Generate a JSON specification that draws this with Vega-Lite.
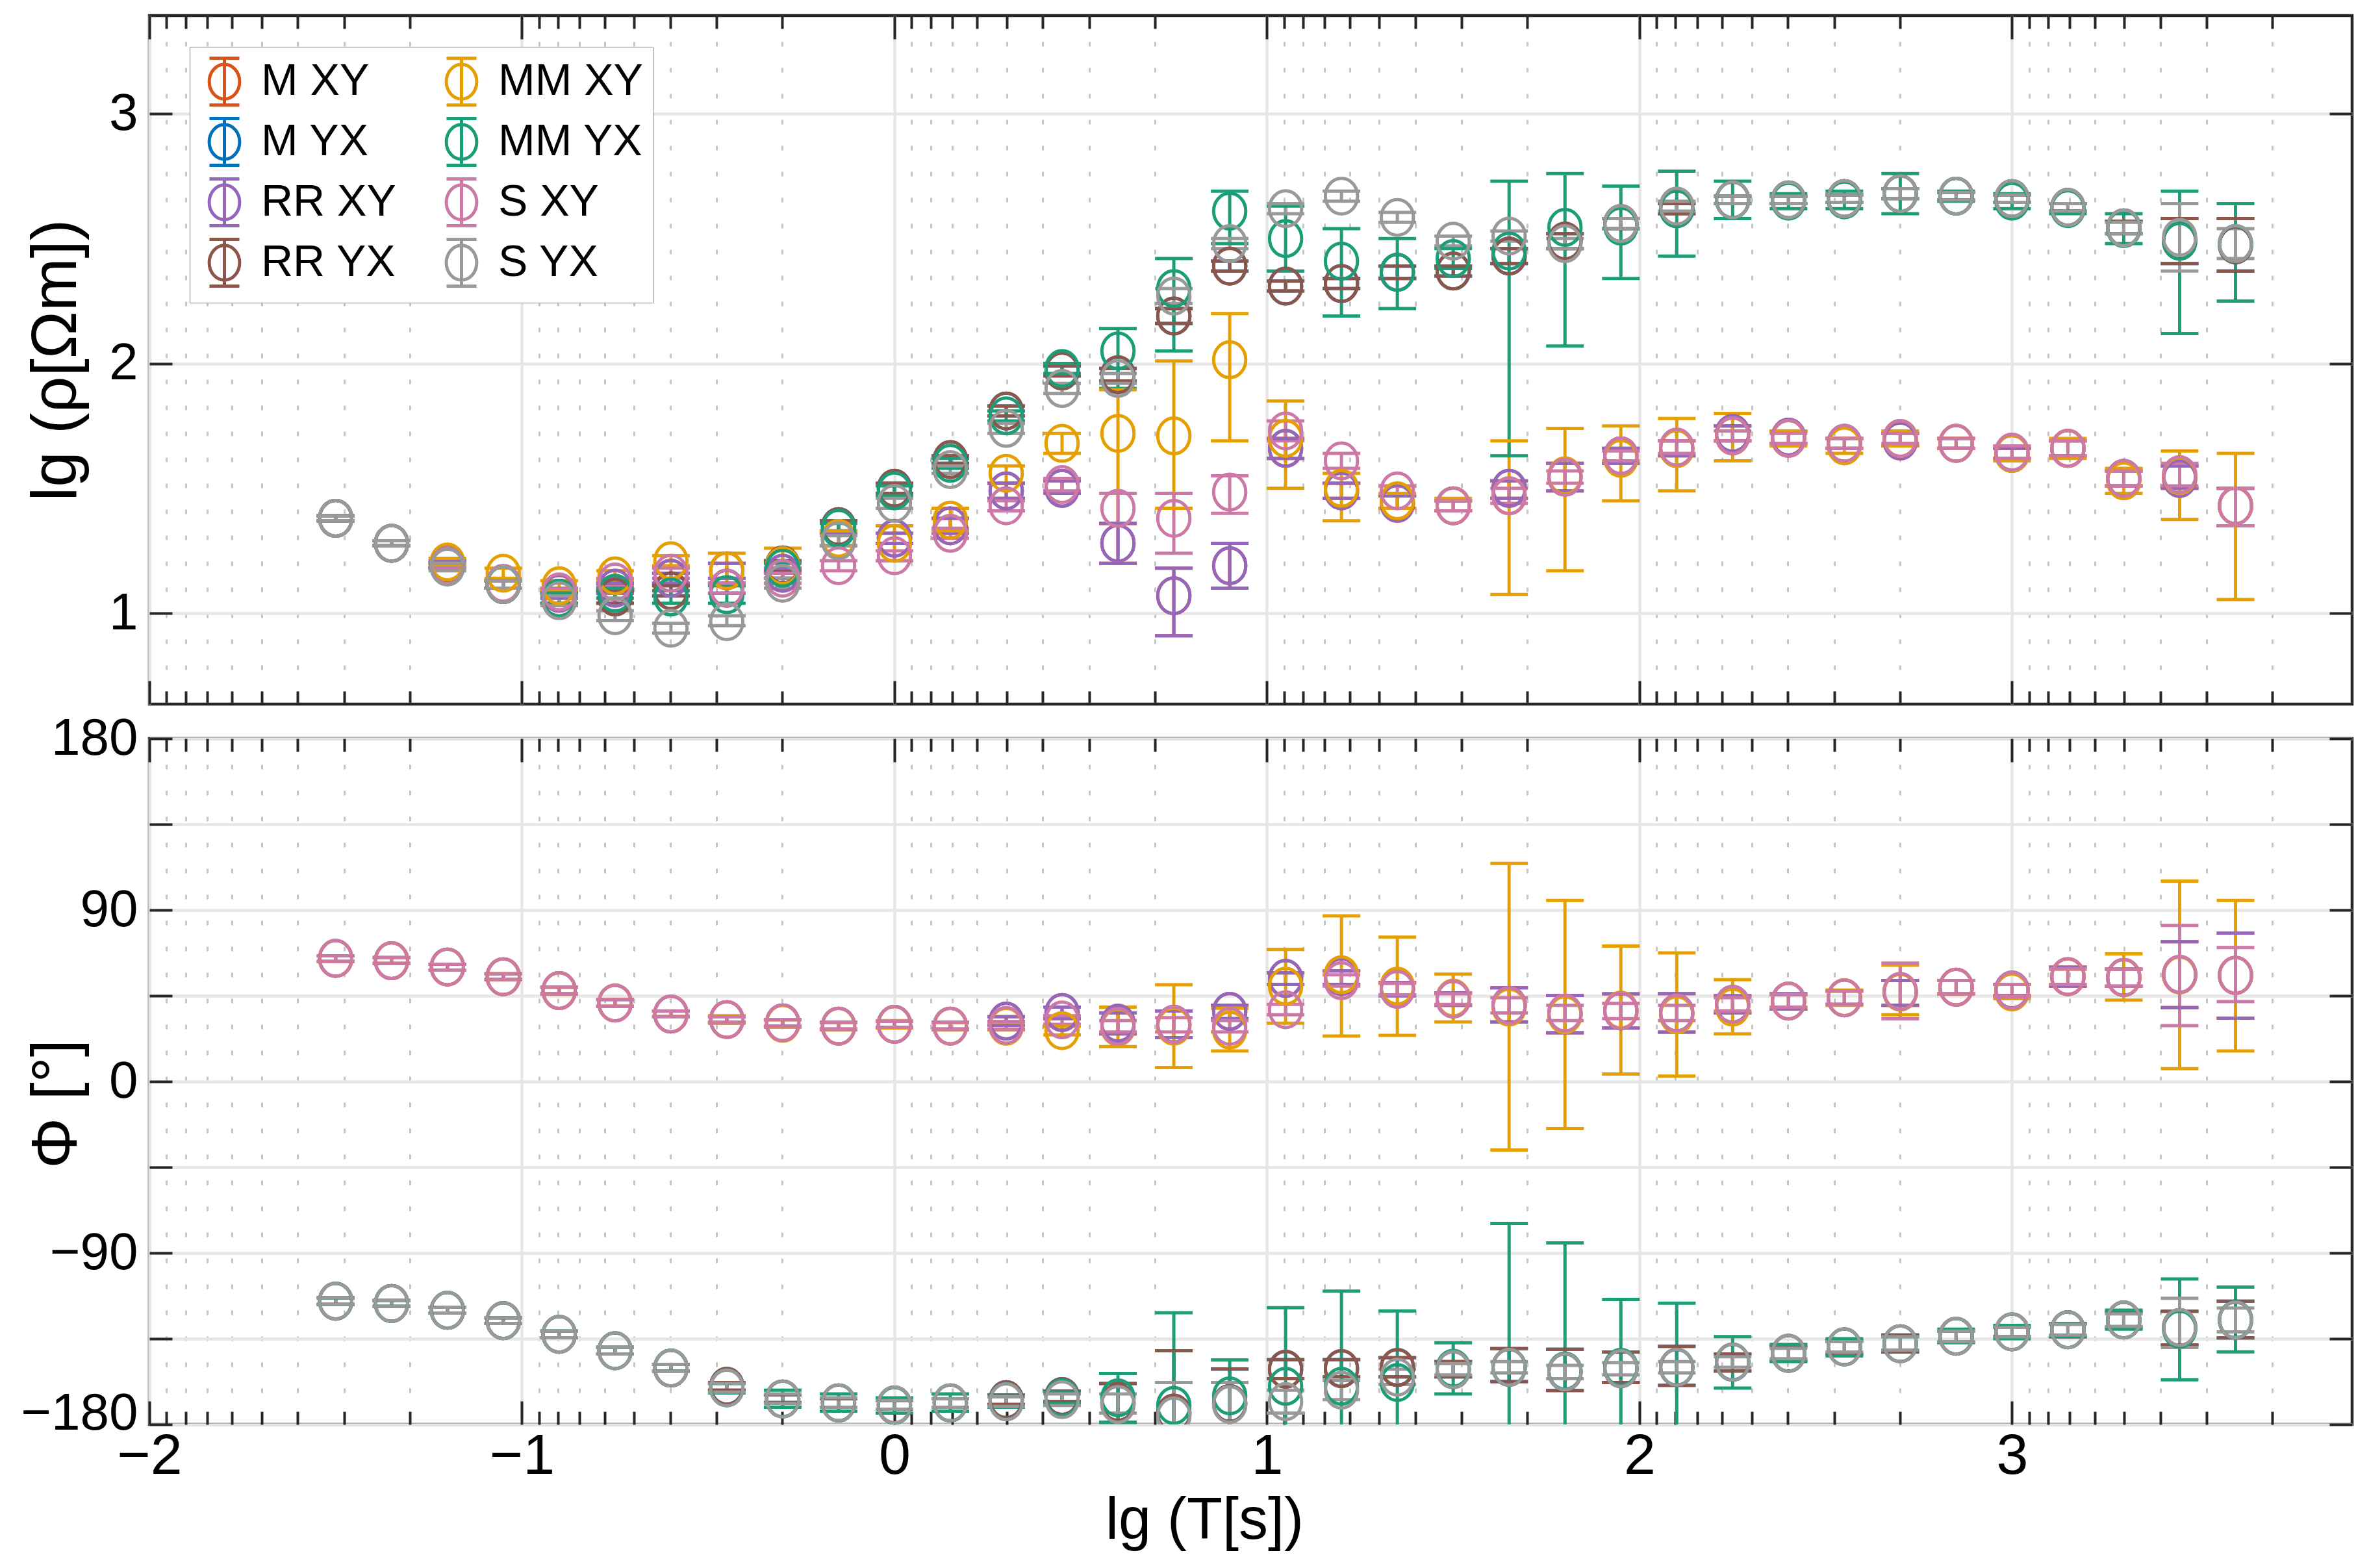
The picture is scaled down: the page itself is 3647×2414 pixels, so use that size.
{
  "$schema": "https://vega.github.io/schema/vega-lite/v6.json",
  "background": "white",
  "padding": {"left": 29, "top": 19, "right": 5, "bottom": 5},
  "bounds": "flush",
  "spacing": 53,
  "config": {
    "font": "Liberation Sans",
    "view": {"stroke": "#262626", "strokeWidth": 4.5},
    "axis": {
      "domain": false, "tickColor": "#262626", "tickWidth": 4,
      "labelFont": "Liberation Sans", "labelFontSize": 80, "labelColor": "#000000", "labelLimit": 500,
      "titleFont": "Liberation Sans", "titleFontSize": 98, "titleFontWeight": "normal", "titleColor": "#000000",
      "labelFlush": false, "labelOverlap": false, "labelBound": false,
      "gridColor": "#e6e6e6", "gridWidth": 4.5
    }
  },
  "datasets": {
    "mt": [
      {"s":"M XY","x":-1.5,"r":1.38,"rl":1.37,"rh":1.39,"p":64.6,"pl":63,"ph":66},
      {"s":"M XY","x":-1.35,"r":1.28,"rl":1.27,"rh":1.29,"p":63.4,"pl":62,"ph":65},
      {"s":"M XY","x":-1.2,"r":1.195,"rl":1.18,"rh":1.21,"p":60.1,"pl":58.5,"ph":61.5},
      {"s":"M XY","x":-1.05,"r":1.115,"rl":1.1,"rh":1.13,"p":55,"pl":53.5,"ph":56.5},
      {"s":"M XY","x":-0.9,"r":1.08,"rl":1.06,"rh":1.1,"p":47.7,"pl":46,"ph":49.5},
      {"s":"M XY","x":-0.75,"r":1.1,"rl":1.08,"rh":1.12,"p":41.2,"pl":39.5,"ph":43},
      {"s":"M XY","x":-0.6,"r":1.14,"rl":1.12,"rh":1.16,"p":35.4,"pl":34,"ph":37},
      {"s":"M XY","x":-0.45,"r":1.17,"rl":1.14,"rh":1.2,"p":32.5,"pl":31,"ph":34},
      {"s":"M XY","x":-0.3,"r":1.16,"rl":1.14,"rh":1.18,"p":30.8,"pl":29,"ph":32.5},
      {"s":"M XY","x":-0.15,"r":1.295,"rl":1.27,"rh":1.32,"p":29.1,"pl":27.5,"ph":31},
      {"s":"M XY","x":0,"r":1.3,"rl":1.28,"rh":1.32,"p":30,"pl":28.5,"ph":31.5},
      {"s":"M XY","x":0.15,"r":1.35,"rl":1.32,"rh":1.38,"p":29.1,"pl":27.5,"ph":31},
      {"s":"M XY","x":0.3,"r":1.49,"rl":1.46,"rh":1.52,"p":31.7,"pl":29.5,"ph":34},
      {"s":"M XY","x":0.45,"r":1.5,"rl":1.48,"rh":1.53,"p":36.2,"pl":33,"ph":39},
      {"s":"M XY","x":0.6,"r":1.28,"rl":1.2,"rh":1.36,"p":30.6,"pl":25,"ph":36},
      {"s":"M XY","x":0.75,"r":1.07,"rl":0.91,"rh":1.18,"p":30,"pl":23,"ph":37},
      {"s":"M XY","x":0.9,"r":1.19,"rl":1.1,"rh":1.28,"p":36.8,"pl":33,"ph":40},
      {"s":"M XY","x":1.05,"r":1.66,"rl":1.62,"rh":1.7,"p":54.1,"pl":51,"ph":57},
      {"s":"M XY","x":1.2,"r":1.49,"rl":1.46,"rh":1.52,"p":55,"pl":51,"ph":58},
      {"s":"M XY","x":1.35,"r":1.44,"rl":1.42,"rh":1.47,"p":48.5,"pl":45,"ph":52},
      {"s":"M XY","x":1.5,"r":1.43,"rl":1.41,"rh":1.45,"p":43.3,"pl":40,"ph":46.5},
      {"s":"M XY","x":1.65,"r":1.5,"rl":1.46,"rh":1.53,"p":40,"pl":31.3,"ph":49.2},
      {"s":"M XY","x":1.8,"r":1.545,"rl":1.49,"rh":1.6,"p":35.4,"pl":25.6,"ph":45.2},
      {"s":"M XY","x":1.95,"r":1.63,"rl":1.6,"rh":1.66,"p":37,"pl":28,"ph":46},
      {"s":"M XY","x":2.1,"r":1.66,"rl":1.63,"rh":1.69,"p":36,"pl":25.9,"ph":46.1},
      {"s":"M XY","x":2.25,"r":1.72,"rl":1.69,"rh":1.75,"p":40.5,"pl":36,"ph":45},
      {"s":"M XY","x":2.4,"r":1.705,"rl":1.68,"rh":1.73,"p":42.2,"pl":38,"ph":46},
      {"s":"M XY","x":2.55,"r":1.68,"rl":1.66,"rh":1.7,"p":43.9,"pl":40.5,"ph":47.5},
      {"s":"M XY","x":2.7,"r":1.69,"rl":1.67,"rh":1.72,"p":47,"pl":40,"ph":53},
      {"s":"M XY","x":2.85,"r":1.68,"rl":1.66,"rh":1.7,"p":49.5,"pl":46,"ph":53},
      {"s":"M XY","x":3.0,"r":1.64,"rl":1.62,"rh":1.66,"p":48,"pl":45,"ph":51},
      {"s":"M XY","x":3.15,"r":1.66,"rl":1.63,"rh":1.69,"p":55,"pl":50,"ph":60},
      {"s":"M XY","x":3.3,"r":1.54,"rl":1.51,"rh":1.57,"p":54.6,"pl":50,"ph":59},
      {"s":"M XY","x":3.45,"r":1.54,"rl":1.5,"rh":1.59,"p":56,"pl":38.8,"ph":73.4},
      {"s":"M XY","x":3.6,"r":1.43,"rl":1.35,"rh":1.5,"p":55.7,"pl":33.2,"ph":77.9},

      {"s":"M YX","x":-1.5,"r":1.38,"rl":1.37,"rh":1.39,"p":-115.3,"pl":-117,"ph":-113.5},
      {"s":"M YX","x":-1.35,"r":1.28,"rl":1.27,"rh":1.29,"p":-116.5,"pl":-118,"ph":-115},
      {"s":"M YX","x":-1.2,"r":1.19,"rl":1.18,"rh":1.2,"p":-120.1,"pl":-121.5,"ph":-118.5},
      {"s":"M YX","x":-1.05,"r":1.115,"rl":1.1,"rh":1.13,"p":-125.5,"pl":-127,"ph":-124},
      {"s":"M YX","x":-0.9,"r":1.06,"rl":1.04,"rh":1.08,"p":-132.7,"pl":-134.5,"ph":-131},
      {"s":"M YX","x":-0.75,"r":1.065,"rl":1.04,"rh":1.09,"p":-141.3,"pl":-143,"ph":-139.5},
      {"s":"M YX","x":-0.6,"r":1.09,"rl":1.07,"rh":1.11,"p":-150.4,"pl":-152,"ph":-148.5},
      {"s":"M YX","x":-0.45,"r":1.1,"rl":1.08,"rh":1.12,"p":-160,"pl":-162,"ph":-158},
      {"s":"M YX","x":-0.3,"r":1.193,"rl":1.17,"rh":1.21,"p":-166.6,"pl":-168.5,"ph":-164.5},
      {"s":"M YX","x":-0.15,"r":1.347,"rl":1.33,"rh":1.37,"p":-168.7,"pl":-171,"ph":-166.5},
      {"s":"M YX","x":0,"r":1.5,"rl":1.48,"rh":1.52,"p":-169.8,"pl":-172,"ph":-167.5},
      {"s":"M YX","x":0.15,"r":1.615,"rl":1.6,"rh":1.63,"p":-168.7,"pl":-171,"ph":-166.5},
      {"s":"M YX","x":0.3,"r":1.81,"rl":1.79,"rh":1.83,"p":-167,"pl":-169.5,"ph":-164.5},
      {"s":"M YX","x":0.45,"r":1.97,"rl":1.95,"rh":1.99,"p":-165.3,"pl":-168,"ph":-162.5},
      {"s":"M YX","x":0.6,"r":1.955,"rl":1.93,"rh":1.98,"p":-168.5,"pl":-178.8,"ph":-158.5},
      {"s":"M YX","x":0.75,"r":2.19,"rl":2.16,"rh":2.22,"p":-174,"pl":-207,"ph":-141.3},
      {"s":"M YX","x":0.9,"r":2.39,"rl":2.37,"rh":2.41,"p":-169,"pl":-187,"ph":-150.9},
      {"s":"M YX","x":1.05,"r":2.31,"rl":2.29,"rh":2.33,"p":-151,"pl":-156,"ph":-146},
      {"s":"M YX","x":1.2,"r":2.32,"rl":2.3,"rh":2.34,"p":-150.7,"pl":-155,"ph":-146},
      {"s":"M YX","x":1.35,"r":2.365,"rl":2.34,"rh":2.39,"p":-150.1,"pl":-155,"ph":-145},
      {"s":"M YX","x":1.5,"r":2.37,"rl":2.35,"rh":2.39,"p":-151.2,"pl":-155,"ph":-147},
      {"s":"M YX","x":1.65,"r":2.43,"rl":2.4,"rh":2.46,"p":-150,"pl":-157.5,"ph":-140.2},
      {"s":"M YX","x":1.8,"r":2.49,"rl":2.46,"rh":2.52,"p":-152.4,"pl":-162.2,"ph":-140.5},
      {"s":"M YX","x":1.95,"r":2.56,"rl":2.54,"rh":2.58,"p":-150.7,"pl":-158,"ph":-142},
      {"s":"M YX","x":2.1,"r":2.62,"rl":2.6,"rh":2.64,"p":-150,"pl":-159.5,"ph":-139},
      {"s":"M YX","x":2.25,"r":2.655,"rl":2.64,"rh":2.67,"p":-147.3,"pl":-152,"ph":-143},
      {"s":"M YX","x":2.4,"r":2.655,"rl":2.64,"rh":2.67,"p":-142.7,"pl":-146.5,"ph":-139},
      {"s":"M YX","x":2.55,"r":2.66,"rl":2.645,"rh":2.675,"p":-139.3,"pl":-143,"ph":-136},
      {"s":"M YX","x":2.7,"r":2.68,"rl":2.66,"rh":2.7,"p":-137.6,"pl":-142,"ph":-133},
      {"s":"M YX","x":2.85,"r":2.67,"rl":2.655,"rh":2.685,"p":-133.7,"pl":-137,"ph":-131},
      {"s":"M YX","x":3.0,"r":2.66,"rl":2.645,"rh":2.675,"p":-131.4,"pl":-134,"ph":-129},
      {"s":"M YX","x":3.15,"r":2.625,"rl":2.61,"rh":2.64,"p":-130.3,"pl":-134,"ph":-127},
      {"s":"M YX","x":3.3,"r":2.543,"rl":2.52,"rh":2.57,"p":-125.2,"pl":-129,"ph":-121},
      {"s":"M YX","x":3.45,"r":2.49,"rl":2.4,"rh":2.58,"p":-129.1,"pl":-138.2,"ph":-120.6},
      {"s":"M YX","x":3.6,"r":2.475,"rl":2.37,"rh":2.58,"p":-125.2,"pl":-134.6,"ph":-115.3},

      {"s":"RR XY","x":-1.5,"r":1.38,"rl":1.37,"rh":1.39,"p":64.6,"pl":63,"ph":66},
      {"s":"RR XY","x":-1.35,"r":1.28,"rl":1.27,"rh":1.29,"p":63.4,"pl":62,"ph":65},
      {"s":"RR XY","x":-1.2,"r":1.195,"rl":1.18,"rh":1.21,"p":60.1,"pl":58.5,"ph":61.5},
      {"s":"RR XY","x":-1.05,"r":1.115,"rl":1.1,"rh":1.13,"p":55,"pl":53.5,"ph":56.5},
      {"s":"RR XY","x":-0.9,"r":1.08,"rl":1.06,"rh":1.1,"p":47.7,"pl":46,"ph":49.5},
      {"s":"RR XY","x":-0.75,"r":1.1,"rl":1.08,"rh":1.12,"p":41.2,"pl":39.5,"ph":43},
      {"s":"RR XY","x":-0.6,"r":1.14,"rl":1.12,"rh":1.16,"p":35.4,"pl":34,"ph":37},
      {"s":"RR XY","x":-0.45,"r":1.17,"rl":1.14,"rh":1.2,"p":32.5,"pl":31,"ph":34},
      {"s":"RR XY","x":-0.3,"r":1.16,"rl":1.14,"rh":1.18,"p":30.8,"pl":29,"ph":32.5},
      {"s":"RR XY","x":-0.15,"r":1.295,"rl":1.27,"rh":1.32,"p":29.1,"pl":27.5,"ph":31},
      {"s":"RR XY","x":0,"r":1.3,"rl":1.28,"rh":1.32,"p":30,"pl":28.5,"ph":31.5},
      {"s":"RR XY","x":0.15,"r":1.35,"rl":1.32,"rh":1.38,"p":29.1,"pl":27.5,"ph":31},
      {"s":"RR XY","x":0.3,"r":1.49,"rl":1.46,"rh":1.52,"p":31.7,"pl":29.5,"ph":34},
      {"s":"RR XY","x":0.45,"r":1.5,"rl":1.48,"rh":1.53,"p":36.2,"pl":33,"ph":39},
      {"s":"RR XY","x":0.6,"r":1.28,"rl":1.2,"rh":1.36,"p":30.6,"pl":25,"ph":36},
      {"s":"RR XY","x":0.75,"r":1.07,"rl":0.91,"rh":1.18,"p":30,"pl":23,"ph":37},
      {"s":"RR XY","x":0.9,"r":1.19,"rl":1.1,"rh":1.28,"p":36.8,"pl":33,"ph":40},
      {"s":"RR XY","x":1.05,"r":1.66,"rl":1.62,"rh":1.7,"p":54.1,"pl":51,"ph":57},
      {"s":"RR XY","x":1.2,"r":1.49,"rl":1.46,"rh":1.52,"p":55,"pl":51,"ph":58},
      {"s":"RR XY","x":1.35,"r":1.44,"rl":1.42,"rh":1.47,"p":48.5,"pl":45,"ph":52},
      {"s":"RR XY","x":1.5,"r":1.43,"rl":1.41,"rh":1.45,"p":43.3,"pl":40,"ph":46.5},
      {"s":"RR XY","x":1.65,"r":1.5,"rl":1.46,"rh":1.53,"p":40,"pl":31.3,"ph":49.2},
      {"s":"RR XY","x":1.8,"r":1.545,"rl":1.49,"rh":1.6,"p":35.4,"pl":25.6,"ph":45.2},
      {"s":"RR XY","x":1.95,"r":1.63,"rl":1.6,"rh":1.66,"p":37,"pl":28,"ph":46},
      {"s":"RR XY","x":2.1,"r":1.66,"rl":1.63,"rh":1.69,"p":36,"pl":25.9,"ph":46.1},
      {"s":"RR XY","x":2.25,"r":1.72,"rl":1.69,"rh":1.75,"p":40.5,"pl":36,"ph":45},
      {"s":"RR XY","x":2.4,"r":1.705,"rl":1.68,"rh":1.73,"p":42.2,"pl":38,"ph":46},
      {"s":"RR XY","x":2.55,"r":1.68,"rl":1.66,"rh":1.7,"p":43.9,"pl":40.5,"ph":47.5},
      {"s":"RR XY","x":2.7,"r":1.69,"rl":1.67,"rh":1.72,"p":47,"pl":40,"ph":53},
      {"s":"RR XY","x":2.85,"r":1.68,"rl":1.66,"rh":1.7,"p":49.5,"pl":46,"ph":53},
      {"s":"RR XY","x":3.0,"r":1.64,"rl":1.62,"rh":1.66,"p":48,"pl":45,"ph":51},
      {"s":"RR XY","x":3.15,"r":1.66,"rl":1.63,"rh":1.69,"p":55,"pl":50,"ph":60},
      {"s":"RR XY","x":3.3,"r":1.54,"rl":1.51,"rh":1.57,"p":54.6,"pl":50,"ph":59},
      {"s":"RR XY","x":3.45,"r":1.54,"rl":1.5,"rh":1.59,"p":56,"pl":38.8,"ph":73.4},
      {"s":"RR XY","x":3.6,"r":1.43,"rl":1.35,"rh":1.5,"p":55.7,"pl":33.2,"ph":77.9},

      {"s":"RR YX","x":-1.5,"r":1.38,"rl":1.37,"rh":1.39,"p":-115.3,"pl":-117,"ph":-113.5},
      {"s":"RR YX","x":-1.35,"r":1.28,"rl":1.27,"rh":1.29,"p":-116.5,"pl":-118,"ph":-115},
      {"s":"RR YX","x":-1.2,"r":1.19,"rl":1.18,"rh":1.2,"p":-120.1,"pl":-121.5,"ph":-118.5},
      {"s":"RR YX","x":-1.05,"r":1.115,"rl":1.1,"rh":1.13,"p":-125.5,"pl":-127,"ph":-124},
      {"s":"RR YX","x":-0.9,"r":1.06,"rl":1.04,"rh":1.08,"p":-132.7,"pl":-134.5,"ph":-131},
      {"s":"RR YX","x":-0.75,"r":1.065,"rl":1.04,"rh":1.09,"p":-141.3,"pl":-143,"ph":-139.5},
      {"s":"RR YX","x":-0.6,"r":1.09,"rl":1.07,"rh":1.11,"p":-150.4,"pl":-152,"ph":-148.5},
      {"s":"RR YX","x":-0.45,"r":1.1,"rl":1.08,"rh":1.12,"p":-160,"pl":-162,"ph":-158},
      {"s":"RR YX","x":-0.3,"r":1.193,"rl":1.17,"rh":1.21,"p":-166.6,"pl":-168.5,"ph":-164.5},
      {"s":"RR YX","x":-0.15,"r":1.347,"rl":1.33,"rh":1.37,"p":-168.7,"pl":-171,"ph":-166.5},
      {"s":"RR YX","x":0,"r":1.5,"rl":1.48,"rh":1.52,"p":-169.8,"pl":-172,"ph":-167.5},
      {"s":"RR YX","x":0.15,"r":1.615,"rl":1.6,"rh":1.63,"p":-168.7,"pl":-171,"ph":-166.5},
      {"s":"RR YX","x":0.3,"r":1.81,"rl":1.79,"rh":1.83,"p":-167,"pl":-169.5,"ph":-164.5},
      {"s":"RR YX","x":0.45,"r":1.97,"rl":1.95,"rh":1.99,"p":-165.3,"pl":-168,"ph":-162.5},
      {"s":"RR YX","x":0.6,"r":1.955,"rl":1.93,"rh":1.98,"p":-168.5,"pl":-178.8,"ph":-158.5},
      {"s":"RR YX","x":0.75,"r":2.19,"rl":2.16,"rh":2.22,"p":-174,"pl":-207,"ph":-141.3},
      {"s":"RR YX","x":0.9,"r":2.39,"rl":2.37,"rh":2.41,"p":-169,"pl":-187,"ph":-150.9},
      {"s":"RR YX","x":1.05,"r":2.31,"rl":2.29,"rh":2.33,"p":-151,"pl":-156,"ph":-146},
      {"s":"RR YX","x":1.2,"r":2.32,"rl":2.3,"rh":2.34,"p":-150.7,"pl":-155,"ph":-146},
      {"s":"RR YX","x":1.35,"r":2.365,"rl":2.34,"rh":2.39,"p":-150.1,"pl":-155,"ph":-145},
      {"s":"RR YX","x":1.5,"r":2.37,"rl":2.35,"rh":2.39,"p":-151.2,"pl":-155,"ph":-147},
      {"s":"RR YX","x":1.65,"r":2.43,"rl":2.4,"rh":2.46,"p":-150,"pl":-157.5,"ph":-140.2},
      {"s":"RR YX","x":1.8,"r":2.49,"rl":2.46,"rh":2.52,"p":-152.4,"pl":-162.2,"ph":-140.5},
      {"s":"RR YX","x":1.95,"r":2.56,"rl":2.54,"rh":2.58,"p":-150.7,"pl":-158,"ph":-142},
      {"s":"RR YX","x":2.1,"r":2.62,"rl":2.6,"rh":2.64,"p":-150,"pl":-159.5,"ph":-139},
      {"s":"RR YX","x":2.25,"r":2.655,"rl":2.64,"rh":2.67,"p":-147.3,"pl":-152,"ph":-143},
      {"s":"RR YX","x":2.4,"r":2.655,"rl":2.64,"rh":2.67,"p":-142.7,"pl":-146.5,"ph":-139},
      {"s":"RR YX","x":2.55,"r":2.66,"rl":2.645,"rh":2.675,"p":-139.3,"pl":-143,"ph":-136},
      {"s":"RR YX","x":2.7,"r":2.68,"rl":2.66,"rh":2.7,"p":-137.6,"pl":-142,"ph":-133},
      {"s":"RR YX","x":2.85,"r":2.67,"rl":2.655,"rh":2.685,"p":-133.7,"pl":-137,"ph":-131},
      {"s":"RR YX","x":3.0,"r":2.66,"rl":2.645,"rh":2.675,"p":-131.4,"pl":-134,"ph":-129},
      {"s":"RR YX","x":3.15,"r":2.625,"rl":2.61,"rh":2.64,"p":-130.3,"pl":-134,"ph":-127},
      {"s":"RR YX","x":3.3,"r":2.543,"rl":2.52,"rh":2.57,"p":-125.2,"pl":-129,"ph":-121},
      {"s":"RR YX","x":3.45,"r":2.49,"rl":2.4,"rh":2.58,"p":-129.1,"pl":-138.2,"ph":-120.6},
      {"s":"RR YX","x":3.6,"r":2.475,"rl":2.37,"rh":2.58,"p":-125.2,"pl":-134.6,"ph":-115.3},

      {"s":"MM XY","x":-1.5,"r":1.38,"rl":1.37,"rh":1.39,"p":64.6,"pl":63,"ph":66},
      {"s":"MM XY","x":-1.35,"r":1.28,"rl":1.27,"rh":1.29,"p":63.4,"pl":62,"ph":65},
      {"s":"MM XY","x":-1.2,"r":1.205,"rl":1.19,"rh":1.22,"p":60.1,"pl":58.5,"ph":61.5},
      {"s":"MM XY","x":-1.05,"r":1.16,"rl":1.14,"rh":1.18,"p":55,"pl":53.5,"ph":56.5},
      {"s":"MM XY","x":-0.9,"r":1.11,"rl":1.09,"rh":1.13,"p":47.7,"pl":46,"ph":49.5},
      {"s":"MM XY","x":-0.75,"r":1.15,"rl":1.13,"rh":1.17,"p":41.2,"pl":39.5,"ph":43},
      {"s":"MM XY","x":-0.6,"r":1.21,"rl":1.19,"rh":1.23,"p":35.4,"pl":34,"ph":37},
      {"s":"MM XY","x":-0.45,"r":1.17,"rl":1.11,"rh":1.24,"p":32.5,"pl":30.5,"ph":34.5},
      {"s":"MM XY","x":-0.3,"r":1.19,"rl":1.12,"rh":1.26,"p":30.5,"pl":28.5,"ph":32.5},
      {"s":"MM XY","x":-0.15,"r":1.3,"rl":1.27,"rh":1.33,"p":29,"pl":27,"ph":31},
      {"s":"MM XY","x":0,"r":1.28,"rl":1.21,"rh":1.35,"p":30,"pl":28,"ph":32},
      {"s":"MM XY","x":0.15,"r":1.373,"rl":1.33,"rh":1.42,"p":29,"pl":27,"ph":31},
      {"s":"MM XY","x":0.3,"r":1.56,"rl":1.52,"rh":1.59,"p":29,"pl":27,"ph":31},
      {"s":"MM XY","x":0.45,"r":1.68,"rl":1.64,"rh":1.72,"p":26.7,"pl":24.5,"ph":29},
      {"s":"MM XY","x":0.6,"r":1.72,"rl":1.36,"rh":1.895,"p":28.5,"pl":18.3,"ph":39},
      {"s":"MM XY","x":0.75,"r":1.71,"rl":1.42,"rh":2.01,"p":29,"pl":7.3,"ph":50.8},
      {"s":"MM XY","x":0.9,"r":2.015,"rl":1.69,"rh":2.2,"p":27,"pl":16,"ph":38.4},
      {"s":"MM XY","x":1.05,"r":1.7,"rl":1.5,"rh":1.85,"p":50,"pl":30.6,"ph":69.3},
      {"s":"MM XY","x":1.2,"r":1.5,"rl":1.37,"rh":1.56,"p":56,"pl":23.9,"ph":86.9},
      {"s":"MM XY","x":1.35,"r":1.45,"rl":1.42,"rh":1.48,"p":50,"pl":24.2,"ph":75.8},
      {"s":"MM XY","x":1.5,"r":1.43,"rl":1.41,"rh":1.46,"p":43.8,"pl":31.3,"ph":56.3},
      {"s":"MM XY","x":1.65,"r":1.47,"rl":1.075,"rh":1.69,"p":39,"pl":-36,"ph":114.5},
      {"s":"MM XY","x":1.8,"r":1.55,"rl":1.17,"rh":1.74,"p":35,"pl":-24.7,"ph":95},
      {"s":"MM XY","x":1.95,"r":1.62,"rl":1.45,"rh":1.75,"p":37.5,"pl":3.9,"ph":71.1},
      {"s":"MM XY","x":2.1,"r":1.66,"rl":1.49,"rh":1.78,"p":35,"pl":2.8,"ph":67.5},
      {"s":"MM XY","x":2.25,"r":1.71,"rl":1.61,"rh":1.8,"p":39,"pl":25,"ph":53.4},
      {"s":"MM XY","x":2.4,"r":1.7,"rl":1.67,"rh":1.73,"p":42.2,"pl":39,"ph":45.5},
      {"s":"MM XY","x":2.55,"r":1.67,"rl":1.64,"rh":1.7,"p":44,"pl":40,"ph":48},
      {"s":"MM XY","x":2.7,"r":1.7,"rl":1.67,"rh":1.73,"p":47,"pl":35,"ph":61},
      {"s":"MM XY","x":2.85,"r":1.68,"rl":1.66,"rh":1.7,"p":49.5,"pl":46,"ph":53},
      {"s":"MM XY","x":3.0,"r":1.64,"rl":1.61,"rh":1.67,"p":47,"pl":43.5,"ph":51},
      {"s":"MM XY","x":3.15,"r":1.66,"rl":1.62,"rh":1.7,"p":55,"pl":51,"ph":59},
      {"s":"MM XY","x":3.3,"r":1.53,"rl":1.48,"rh":1.58,"p":54.6,"pl":42.7,"ph":67},
      {"s":"MM XY","x":3.45,"r":1.55,"rl":1.375,"rh":1.65,"p":56,"pl":6.75,"ph":105.2},
      {"s":"MM XY","x":3.6,"r":1.43,"rl":1.055,"rh":1.64,"p":55.7,"pl":16,"ph":95},

      {"s":"MM YX","x":-1.5,"r":1.38,"rl":1.37,"rh":1.39,"p":-115.3,"pl":-117,"ph":-113.5},
      {"s":"MM YX","x":-1.35,"r":1.28,"rl":1.27,"rh":1.29,"p":-116.5,"pl":-118,"ph":-115},
      {"s":"MM YX","x":-1.2,"r":1.19,"rl":1.18,"rh":1.2,"p":-120.1,"pl":-121.5,"ph":-118.5},
      {"s":"MM YX","x":-1.05,"r":1.115,"rl":1.1,"rh":1.13,"p":-125.5,"pl":-127,"ph":-124},
      {"s":"MM YX","x":-0.9,"r":1.06,"rl":1.04,"rh":1.08,"p":-132.7,"pl":-134.5,"ph":-131},
      {"s":"MM YX","x":-0.75,"r":1.08,"rl":1.06,"rh":1.1,"p":-141.3,"pl":-143,"ph":-139.5},
      {"s":"MM YX","x":-0.6,"r":1.065,"rl":1.04,"rh":1.09,"p":-150.4,"pl":-152,"ph":-148.5},
      {"s":"MM YX","x":-0.45,"r":1.074,"rl":1.04,"rh":1.11,"p":-160.8,"pl":-163.5,"ph":-158.5},
      {"s":"MM YX","x":-0.3,"r":1.18,"rl":1.16,"rh":1.2,"p":-166.6,"pl":-171,"ph":-162},
      {"s":"MM YX","x":-0.15,"r":1.34,"rl":1.32,"rh":1.36,"p":-168.7,"pl":-173,"ph":-164},
      {"s":"MM YX","x":0,"r":1.49,"rl":1.47,"rh":1.51,"p":-170,"pl":-174,"ph":-166},
      {"s":"MM YX","x":0.15,"r":1.6,"rl":1.58,"rh":1.62,"p":-168.7,"pl":-173,"ph":-164},
      {"s":"MM YX","x":0.3,"r":1.79,"rl":1.77,"rh":1.81,"p":-168,"pl":-171,"ph":-165},
      {"s":"MM YX","x":0.45,"r":1.98,"rl":1.96,"rh":2.0,"p":-166,"pl":-169,"ph":-163},
      {"s":"MM YX","x":0.6,"r":2.05,"rl":1.9,"rh":2.14,"p":-166,"pl":-179,"ph":-153.2},
      {"s":"MM YX","x":0.75,"r":2.3,"rl":2.05,"rh":2.42,"p":-170,"pl":-219,"ph":-121.4},
      {"s":"MM YX","x":0.9,"r":2.61,"rl":2.48,"rh":2.69,"p":-165,"pl":-184,"ph":-146.2},
      {"s":"MM YX","x":1.05,"r":2.5,"rl":2.37,"rh":2.63,"p":-160,"pl":-201,"ph":-118.7},
      {"s":"MM YX","x":1.2,"r":2.41,"rl":2.19,"rh":2.54,"p":-160,"pl":-210,"ph":-110},
      {"s":"MM YX","x":1.35,"r":2.365,"rl":2.22,"rh":2.5,"p":-158,"pl":-196,"ph":-120.4},
      {"s":"MM YX","x":1.5,"r":2.42,"rl":2.38,"rh":2.46,"p":-150.5,"pl":-164,"ph":-137.1},
      {"s":"MM YX","x":1.65,"r":2.45,"rl":1.63,"rh":2.73,"p":-150,"pl":-225,"ph":-74.5},
      {"s":"MM YX","x":1.8,"r":2.545,"rl":2.07,"rh":2.76,"p":-152,"pl":-219,"ph":-84.7},
      {"s":"MM YX","x":1.95,"r":2.55,"rl":2.34,"rh":2.71,"p":-150,"pl":-186,"ph":-114.4},
      {"s":"MM YX","x":2.1,"r":2.62,"rl":2.43,"rh":2.77,"p":-150,"pl":-184,"ph":-116.3},
      {"s":"MM YX","x":2.25,"r":2.655,"rl":2.58,"rh":2.73,"p":-147.3,"pl":-160.9,"ph":-133.9},
      {"s":"MM YX","x":2.4,"r":2.65,"rl":2.62,"rh":2.68,"p":-142.7,"pl":-147,"ph":-138},
      {"s":"MM YX","x":2.55,"r":2.655,"rl":2.62,"rh":2.69,"p":-139.3,"pl":-144,"ph":-135},
      {"s":"MM YX","x":2.7,"r":2.68,"rl":2.6,"rh":2.76,"p":-137.6,"pl":-141,"ph":-134},
      {"s":"MM YX","x":2.85,"r":2.67,"rl":2.65,"rh":2.69,"p":-133.7,"pl":-137,"ph":-130},
      {"s":"MM YX","x":3.0,"r":2.65,"rl":2.62,"rh":2.68,"p":-131.4,"pl":-135,"ph":-128},
      {"s":"MM YX","x":3.15,"r":2.62,"rl":2.6,"rh":2.64,"p":-130.3,"pl":-133.5,"ph":-127},
      {"s":"MM YX","x":3.3,"r":2.54,"rl":2.48,"rh":2.6,"p":-125.2,"pl":-130,"ph":-120},
      {"s":"MM YX","x":3.45,"r":2.49,"rl":2.12,"rh":2.69,"p":-130,"pl":-156.6,"ph":-103.6},
      {"s":"MM YX","x":3.6,"r":2.48,"rl":2.25,"rh":2.64,"p":-125,"pl":-141.9,"ph":-107.9},

      {"s":"S XY","x":-1.5,"r":1.38,"rl":1.37,"rh":1.39,"p":64.6,"pl":63,"ph":66},
      {"s":"S XY","x":-1.35,"r":1.28,"rl":1.27,"rh":1.29,"p":63.4,"pl":62,"ph":65},
      {"s":"S XY","x":-1.2,"r":1.19,"rl":1.18,"rh":1.2,"p":60.1,"pl":58.5,"ph":61.5},
      {"s":"S XY","x":-1.05,"r":1.12,"rl":1.1,"rh":1.13,"p":55,"pl":53.5,"ph":56.5},
      {"s":"S XY","x":-0.9,"r":1.085,"rl":1.07,"rh":1.1,"p":47.7,"pl":46,"ph":49.5},
      {"s":"S XY","x":-0.75,"r":1.125,"rl":1.11,"rh":1.14,"p":41.2,"pl":39.5,"ph":43},
      {"s":"S XY","x":-0.6,"r":1.16,"rl":1.14,"rh":1.18,"p":35.4,"pl":34,"ph":37},
      {"s":"S XY","x":-0.45,"r":1.1,"rl":1.08,"rh":1.12,"p":32.5,"pl":31,"ph":34},
      {"s":"S XY","x":-0.3,"r":1.14,"rl":1.12,"rh":1.16,"p":30.8,"pl":29,"ph":32.5},
      {"s":"S XY","x":-0.15,"r":1.19,"rl":1.17,"rh":1.21,"p":29.1,"pl":27.5,"ph":31},
      {"s":"S XY","x":0,"r":1.23,"rl":1.21,"rh":1.25,"p":30,"pl":28.5,"ph":31.5},
      {"s":"S XY","x":0.15,"r":1.32,"rl":1.3,"rh":1.34,"p":29.1,"pl":27.5,"ph":31},
      {"s":"S XY","x":0.3,"r":1.43,"rl":1.41,"rh":1.45,"p":29.5,"pl":27.5,"ph":31.5},
      {"s":"S XY","x":0.45,"r":1.515,"rl":1.49,"rh":1.54,"p":32.3,"pl":30,"ph":34.5},
      {"s":"S XY","x":0.6,"r":1.42,"rl":1.36,"rh":1.48,"p":28.9,"pl":26,"ph":32},
      {"s":"S XY","x":0.75,"r":1.38,"rl":1.24,"rh":1.48,"p":29.8,"pl":26,"ph":33.5},
      {"s":"S XY","x":0.9,"r":1.485,"rl":1.4,"rh":1.55,"p":28.9,"pl":26,"ph":32},
      {"s":"S XY","x":1.05,"r":1.73,"rl":1.69,"rh":1.77,"p":37.7,"pl":35,"ph":40.5},
      {"s":"S XY","x":1.2,"r":1.61,"rl":1.58,"rh":1.64,"p":52.9,"pl":50,"ph":56},
      {"s":"S XY","x":1.35,"r":1.49,"rl":1.47,"rh":1.51,"p":48.4,"pl":45.5,"ph":51.5},
      {"s":"S XY","x":1.5,"r":1.43,"rl":1.41,"rh":1.45,"p":43.3,"pl":40.5,"ph":46},
      {"s":"S XY","x":1.65,"r":1.47,"rl":1.44,"rh":1.5,"p":39.9,"pl":36,"ph":44},
      {"s":"S XY","x":1.8,"r":1.545,"rl":1.52,"rh":1.57,"p":36,"pl":32,"ph":40},
      {"s":"S XY","x":1.95,"r":1.63,"rl":1.61,"rh":1.65,"p":37.1,"pl":33,"ph":41},
      {"s":"S XY","x":2.1,"r":1.665,"rl":1.64,"rh":1.69,"p":36,"pl":32,"ph":40},
      {"s":"S XY","x":2.25,"r":1.71,"rl":1.69,"rh":1.73,"p":40.5,"pl":37,"ph":44},
      {"s":"S XY","x":2.4,"r":1.7,"rl":1.68,"rh":1.72,"p":42.2,"pl":39,"ph":45.5},
      {"s":"S XY","x":2.55,"r":1.68,"rl":1.66,"rh":1.7,"p":43.9,"pl":40.5,"ph":47.5},
      {"s":"S XY","x":2.7,"r":1.7,"rl":1.68,"rh":1.72,"p":47.3,"pl":32.9,"ph":62.1},
      {"s":"S XY","x":2.85,"r":1.68,"rl":1.66,"rh":1.7,"p":49.5,"pl":46,"ph":53},
      {"s":"S XY","x":3.0,"r":1.645,"rl":1.62,"rh":1.67,"p":47.8,"pl":44.5,"ph":51},
      {"s":"S XY","x":3.15,"r":1.66,"rl":1.63,"rh":1.69,"p":55.1,"pl":51,"ph":59},
      {"s":"S XY","x":3.3,"r":1.54,"rl":1.51,"rh":1.57,"p":54.6,"pl":50,"ph":59},
      {"s":"S XY","x":3.45,"r":1.555,"rl":1.51,"rh":1.6,"p":56.3,"pl":29.3,"ph":81.9},
      {"s":"S XY","x":3.6,"r":1.43,"rl":1.35,"rh":1.5,"p":55.7,"pl":41.9,"ph":70.3},

      {"s":"S YX","x":-1.5,"r":1.38,"rl":1.37,"rh":1.39,"p":-115.3,"pl":-117,"ph":-113.5},
      {"s":"S YX","x":-1.35,"r":1.28,"rl":1.27,"rh":1.29,"p":-116.5,"pl":-118,"ph":-115},
      {"s":"S YX","x":-1.2,"r":1.185,"rl":1.17,"rh":1.2,"p":-120.1,"pl":-121.5,"ph":-118.5},
      {"s":"S YX","x":-1.05,"r":1.115,"rl":1.1,"rh":1.13,"p":-125.5,"pl":-127,"ph":-124},
      {"s":"S YX","x":-0.9,"r":1.05,"rl":1.03,"rh":1.07,"p":-132.7,"pl":-134.5,"ph":-131},
      {"s":"S YX","x":-0.75,"r":0.99,"rl":0.97,"rh":1.01,"p":-141.3,"pl":-143,"ph":-139.5},
      {"s":"S YX","x":-0.6,"r":0.94,"rl":0.92,"rh":0.96,"p":-150.4,"pl":-152,"ph":-148.5},
      {"s":"S YX","x":-0.45,"r":0.966,"rl":0.95,"rh":0.99,"p":-160.8,"pl":-163,"ph":-158.5},
      {"s":"S YX","x":-0.3,"r":1.12,"rl":1.1,"rh":1.14,"p":-166.6,"pl":-169,"ph":-164},
      {"s":"S YX","x":-0.15,"r":1.29,"rl":1.27,"rh":1.31,"p":-168.7,"pl":-171,"ph":-166},
      {"s":"S YX","x":0,"r":1.44,"rl":1.42,"rh":1.46,"p":-169.8,"pl":-172,"ph":-167.5},
      {"s":"S YX","x":0.15,"r":1.575,"rl":1.56,"rh":1.59,"p":-168.7,"pl":-171,"ph":-166.5},
      {"s":"S YX","x":0.3,"r":1.74,"rl":1.72,"rh":1.76,"p":-168.1,"pl":-170.5,"ph":-165.5},
      {"s":"S YX","x":0.45,"r":1.9,"rl":1.88,"rh":1.92,"p":-167,"pl":-170,"ph":-164},
      {"s":"S YX","x":0.6,"r":1.94,"rl":1.92,"rh":1.96,"p":-169.5,"pl":-174,"ph":-164},
      {"s":"S YX","x":0.75,"r":2.27,"rl":2.24,"rh":2.3,"p":-175.5,"pl":-193,"ph":-158},
      {"s":"S YX","x":0.9,"r":2.48,"rl":2.46,"rh":2.5,"p":-169.5,"pl":-181,"ph":-158},
      {"s":"S YX","x":1.05,"r":2.62,"rl":2.6,"rh":2.64,"p":-168,"pl":-174,"ph":-162},
      {"s":"S YX","x":1.2,"r":2.67,"rl":2.65,"rh":2.69,"p":-162,"pl":-167,"ph":-157},
      {"s":"S YX","x":1.35,"r":2.585,"rl":2.565,"rh":2.605,"p":-155.2,"pl":-159,"ph":-151},
      {"s":"S YX","x":1.5,"r":2.49,"rl":2.47,"rh":2.51,"p":-151.2,"pl":-154,"ph":-148},
      {"s":"S YX","x":1.65,"r":2.51,"rl":2.49,"rh":2.53,"p":-150,"pl":-153,"ph":-147},
      {"s":"S YX","x":1.8,"r":2.48,"rl":2.46,"rh":2.5,"p":-152.4,"pl":-156,"ph":-149},
      {"s":"S YX","x":1.95,"r":2.56,"rl":2.54,"rh":2.58,"p":-150.7,"pl":-154,"ph":-147.5},
      {"s":"S YX","x":2.1,"r":2.63,"rl":2.61,"rh":2.65,"p":-150,"pl":-153,"ph":-147},
      {"s":"S YX","x":2.25,"r":2.655,"rl":2.64,"rh":2.67,"p":-147.3,"pl":-150,"ph":-144.5},
      {"s":"S YX","x":2.4,"r":2.655,"rl":2.64,"rh":2.67,"p":-142.7,"pl":-145.5,"ph":-140},
      {"s":"S YX","x":2.55,"r":2.66,"rl":2.645,"rh":2.675,"p":-139.3,"pl":-142,"ph":-136.5},
      {"s":"S YX","x":2.7,"r":2.68,"rl":2.66,"rh":2.7,"p":-137.6,"pl":-141,"ph":-134},
      {"s":"S YX","x":2.85,"r":2.67,"rl":2.655,"rh":2.685,"p":-133.7,"pl":-136.5,"ph":-131},
      {"s":"S YX","x":3.0,"r":2.66,"rl":2.645,"rh":2.675,"p":-131.4,"pl":-134,"ph":-129},
      {"s":"S YX","x":3.15,"r":2.625,"rl":2.61,"rh":2.64,"p":-130.3,"pl":-133,"ph":-127.5},
      {"s":"S YX","x":3.3,"r":2.543,"rl":2.52,"rh":2.565,"p":-125.2,"pl":-128.5,"ph":-122},
      {"s":"S YX","x":3.45,"r":2.505,"rl":2.37,"rh":2.64,"p":-129.1,"pl":-139.6,"ph":-113.8},
      {"s":"S YX","x":3.6,"r":2.48,"rl":2.42,"rh":2.54,"p":-125.2,"pl":-131.4,"ph":-118.9}
    ]
  },
  "vconcat": [
    {
      "width": 3391,
      "height": 1060,
      "data": {"name": "mt"},
      "resolve": {"axis": {"x": "independent", "y": "independent"}},
      "layer": [
        {
          "mark": {"type": "rule", "strokeWidth": 5, "clip": true},
          "encoding": {
            "x": {"field": "x", "type": "quantitative",
              "scale": {"domain": [-2, 3.913], "nice": false, "zero": false},
              "axis": {"orient": "bottom", "title": null, "labels": false, "grid": true,
                "values": [-2,-1.9542,-1.9031,-1.8451,-1.7782,-1.699,-1.6021,-1.4771,-1.301,-1,-0.9542,-0.9031,-0.8451,-0.7782,-0.699,-0.6021,-0.4771,-0.301,0,0.0458,0.0969,0.1549,0.2218,0.301,0.3979,0.5229,0.699,1,1.0458,1.0969,1.1549,1.2218,1.301,1.3979,1.5229,1.699,2,2.0458,2.0969,2.1549,2.2218,2.301,2.3979,2.5229,2.699,3,3.0458,3.0969,3.1549,3.2218,3.301,3.3979,3.5229,3.699],
                "tickSize": {"condition": {"test": "datum.value % 1 == 0", "value": -36}, "value": -20},
                "gridDash": {"condition": {"test": "datum.value % 1 == 0", "value": []}, "value": [7, 33]},
                "gridColor": {"condition": {"test": "datum.value % 1 == 0", "value": "#e6e6e6"}, "value": "#c4c4c4"},
                "gridWidth": {"condition": {"test": "datum.value % 1 == 0", "value": 4.5}, "value": 3}}},
            "y": {"field": "rl", "type": "quantitative",
              "scale": {"domain": [0.636, 3.393], "nice": false, "zero": false},
              "axis": {"orient": "left", "values": [1, 2, 3], "title": "lg (ρ[Ωm])", "grid": true,
                "tickSize": -35, "labelPadding": 53,
                "titleX": -143, "titleY": 530, "titleAngle": -90, "titleBaseline": "middle", "titleAlign": "center"}},
            "y2": {"field": "rh"},
            "color": {"field": "s", "type": "nominal",
              "scale": {"domain": ["M XY","M YX","RR XY","RR YX","MM XY","MM YX","S XY","S YX"],
                "range": ["#D95319","#0072BD","#9467BD","#8C564B","#E69F00","#1B9E77","#CC79A7","#999999"]}}
          }
        },
        {
          "mark": {"type": "rule", "strokeWidth": 5, "xOffset": -29, "x2Offset": 29, "clip": true},
          "encoding": {
            "x": {"field": "x", "type": "quantitative",
              "axis": {"orient": "top", "title": null, "labels": false, "grid": false,
                "values": [-2,-1.9542,-1.9031,-1.8451,-1.7782,-1.699,-1.6021,-1.4771,-1.301,-1,-0.9542,-0.9031,-0.8451,-0.7782,-0.699,-0.6021,-0.4771,-0.301,0,0.0458,0.0969,0.1549,0.2218,0.301,0.3979,0.5229,0.699,1,1.0458,1.0969,1.1549,1.2218,1.301,1.3979,1.5229,1.699,2,2.0458,2.0969,2.1549,2.2218,2.301,2.3979,2.5229,2.699,3,3.0458,3.0969,3.1549,3.2218,3.301,3.3979,3.5229,3.699],
                "tickSize": {"condition": {"test": "datum.value % 1 == 0", "value": -36}, "value": -20}}},
            "x2": {"field": "x"},
            "y": {"field": "rl", "type": "quantitative",
              "axis": {"orient": "right", "values": [1, 2, 3], "title": null, "labels": false, "grid": false, "tickSize": -35}},
            "color": {"field": "s", "type": "nominal"}
          }
        },
        {
          "mark": {"type": "rule", "strokeWidth": 5, "xOffset": -29, "x2Offset": 29, "clip": true},
          "encoding": {
            "x": {"field": "x", "type": "quantitative", "axis": null},
            "x2": {"field": "x"},
            "y": {"field": "rh", "type": "quantitative", "axis": null},
            "color": {"field": "s", "type": "nominal"}
          }
        },
        {
          "mark": {"type": "point", "shape": "M-0.9,0A0.9,1 0 1,0 0.9,0A0.9,1 0 1,0 -0.9,0", "filled": false, "size": 3025, "strokeWidth": 5, "opacity": 1, "clip": true},
          "encoding": {
            "x": {"field": "x", "type": "quantitative", "axis": null},
            "y": {"field": "r", "type": "quantitative", "axis": null},
            "color": {"field": "s", "type": "nominal",
              "legend": {"title": null, "orient": "none", "legendX": 62, "legendY": 48, "columns": 2,
                "symbolType": "M-0.65,0A0.65,0.74 0 1,0 0.65,0A0.65,0.74 0 1,0 -0.65,0M0,-1L0,1M-0.64,-1L0.64,-1M-0.64,1L0.64,1",
                "symbolSize": 5184, "symbolStrokeWidth": 5, "symbolFillColor": "transparent",
                "labelFont": "Liberation Sans", "labelFontSize": 68, "labelColor": "#000000", "labelLimit": 600,
                "labelOffset": 18, "rowPadding": 0, "columnPadding": 62, "padding": 15,
                "strokeColor": "#808080", "fillColor": "#ffffff"}}
          }
        }
      ]
    },
    {
      "width": 3391,
      "height": 1056,
      "data": {"name": "mt"},
      "resolve": {"axis": {"x": "independent", "y": "independent"}},
      "layer": [
        {
          "mark": {"type": "rule", "strokeWidth": 5, "clip": true},
          "encoding": {
            "x": {"field": "x", "type": "quantitative",
              "scale": {"domain": [-2, 3.913], "nice": false, "zero": false},
              "axis": {"orient": "bottom", "title": "lg (T[s])", "grid": true,
                "labelExpr": "datum.value % 1 == 0 ? format(datum.value, 'd') : ''",
                "labelFontSize": 88, "labelPadding": 41, "titleFontSize": 90,
                "titleX": 1624, "titleY": 104, "titleBaseline": "top", "titleAlign": "center",
                "values": [-2,-1.9542,-1.9031,-1.8451,-1.7782,-1.699,-1.6021,-1.4771,-1.301,-1,-0.9542,-0.9031,-0.8451,-0.7782,-0.699,-0.6021,-0.4771,-0.301,0,0.0458,0.0969,0.1549,0.2218,0.301,0.3979,0.5229,0.699,1,1.0458,1.0969,1.1549,1.2218,1.301,1.3979,1.5229,1.699,2,2.0458,2.0969,2.1549,2.2218,2.301,2.3979,2.5229,2.699,3,3.0458,3.0969,3.1549,3.2218,3.301,3.3979,3.5229,3.699],
                "tickSize": {"condition": {"test": "datum.value % 1 == 0", "value": -36}, "value": -20},
                "gridDash": {"condition": {"test": "datum.value % 1 == 0", "value": []}, "value": [7, 33]},
                "gridColor": {"condition": {"test": "datum.value % 1 == 0", "value": "#e6e6e6"}, "value": "#c4c4c4"},
                "gridWidth": {"condition": {"test": "datum.value % 1 == 0", "value": 4.5}, "value": 3}}},
            "y": {"field": "pl", "type": "quantitative",
              "scale": {"domain": [-180, 180], "nice": false, "zero": false},
              "axis": {"orient": "left", "values": [-180,-135,-90,-45,0,45,90,135,180], "title": "Φ [°]", "grid": true,
                "labelExpr": "datum.value % 90 == 0 ? datum.label : ''",
                "labelOffset": {"condition": {"test": "datum.value == -180", "value": -17}, "value": 0},
                "tickSize": -35, "labelPadding": 53,
                "titleX": -143, "titleY": 562, "titleAngle": -90, "titleBaseline": "middle", "titleAlign": "center"}},
            "y2": {"field": "ph"},
            "color": {"field": "s", "type": "nominal",
              "scale": {"domain": ["M XY","M YX","RR XY","RR YX","MM XY","MM YX","S XY","S YX"],
                "range": ["#D95319","#0072BD","#9467BD","#8C564B","#E69F00","#1B9E77","#CC79A7","#999999"]}}
          }
        },
        {
          "mark": {"type": "rule", "strokeWidth": 5, "xOffset": -29, "x2Offset": 29, "clip": true},
          "encoding": {
            "x": {"field": "x", "type": "quantitative",
              "axis": {"orient": "top", "title": null, "labels": false, "grid": false,
                "values": [-2,-1.9542,-1.9031,-1.8451,-1.7782,-1.699,-1.6021,-1.4771,-1.301,-1,-0.9542,-0.9031,-0.8451,-0.7782,-0.699,-0.6021,-0.4771,-0.301,0,0.0458,0.0969,0.1549,0.2218,0.301,0.3979,0.5229,0.699,1,1.0458,1.0969,1.1549,1.2218,1.301,1.3979,1.5229,1.699,2,2.0458,2.0969,2.1549,2.2218,2.301,2.3979,2.5229,2.699,3,3.0458,3.0969,3.1549,3.2218,3.301,3.3979,3.5229,3.699],
                "tickSize": {"condition": {"test": "datum.value % 1 == 0", "value": -36}, "value": -20}}},
            "x2": {"field": "x"},
            "y": {"field": "pl", "type": "quantitative",
              "axis": {"orient": "right", "values": [-180,-135,-90,-45,0,45,90,135,180], "title": null, "labels": false, "grid": false, "tickSize": -35}},
            "color": {"field": "s", "type": "nominal"}
          }
        },
        {
          "mark": {"type": "rule", "strokeWidth": 5, "xOffset": -29, "x2Offset": 29, "clip": true},
          "encoding": {
            "x": {"field": "x", "type": "quantitative", "axis": null},
            "x2": {"field": "x"},
            "y": {"field": "ph", "type": "quantitative", "axis": null},
            "color": {"field": "s", "type": "nominal"}
          }
        },
        {
          "mark": {"type": "point", "shape": "M-0.9,0A0.9,1 0 1,0 0.9,0A0.9,1 0 1,0 -0.9,0", "filled": false, "size": 3025, "strokeWidth": 5, "opacity": 1, "clip": true},
          "encoding": {
            "x": {"field": "x", "type": "quantitative", "axis": null},
            "y": {"field": "p", "type": "quantitative", "axis": null},
            "color": {"field": "s", "type": "nominal"}
          }
        }
      ]
    }
  ]
}
